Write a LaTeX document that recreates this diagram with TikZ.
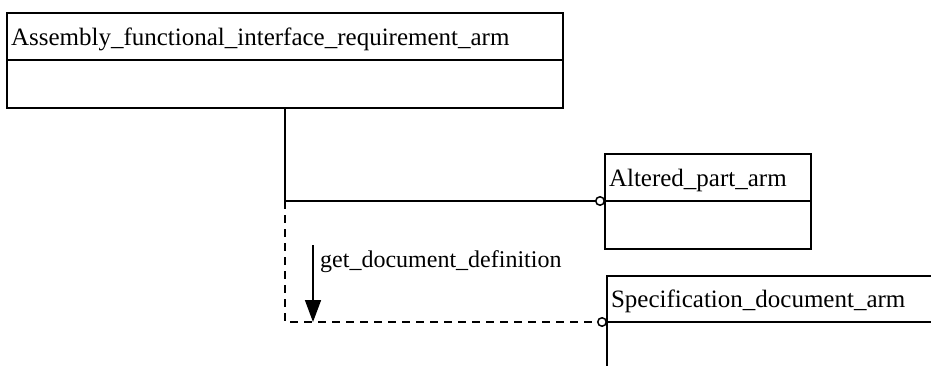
\documentclass[tikz,border=0pt]{standalone}
\usepackage{fontspec}
\setmainfont{Liberation Serif}
\usetikzlibrary{arrows.meta,positioning,calc}

\tikzset{
  entity/.style={draw, line width=2pt, rectangle, anchor=north west, inner sep=0pt, outer sep=0pt, text depth=0pt, font=\fontsize{25}{29}\selectfont},
  entbody/.style={draw, line width=2pt, rectangle, anchor=north, inner sep=0pt, outer sep=0pt},
  rel/.style={line width=2pt, -{Circle[open, length=10pt, line width=1.5pt]}},
}

\begin{document}
\begin{tikzpicture}[x=1pt, y=-1pt]
			\useasboundingbox (0,0) rectangle (931,366);
			\node[entity, minimum width=556pt, minimum height=47pt, text width=548pt] (afir) at (7,13) {Assembly\_functional\_interface\_requirement\_arm};
			\node[entbody, minimum width=556pt, minimum height=48pt] (afirb) at (afir.south) {};
			\node[entity, minimum width=206pt, minimum height=47pt, text width=198pt] (alt) at (605,154) {Altered\_part\_arm};
			\node[entbody, minimum width=206pt, minimum height=48pt] (altb) at (alt.south) {};
			\node[entity, minimum width=340pt, minimum height=46pt, text width=332pt] (spec) at (607,276) {Specification\_document\_arm};
			\node[entbody, minimum width=340pt, minimum height=48pt] (specb) at (spec.south) {};
			% connectors
			\coordinate (bend) at (afirb.south |- alt.south west);
			\draw[rel] (afirb.south) |- (alt.south west);
			\draw[rel, dashed, dash pattern=on 8pt off 6pt] (bend) |- (spec.south west);
			\coordinate (dtop) at (313,245);
			\coordinate (dbot) at (313,322);
			\draw[line width=1.6pt, -{Triangle[length=22pt, width=16pt]}] (dtop) -- (dbot);
			\node[anchor=north west, inner sep=0pt, font=\fontsize{24}{28}\selectfont] (lbl) at (320,250) {get\_document\_definition};
		\end{tikzpicture}
\end{document}
